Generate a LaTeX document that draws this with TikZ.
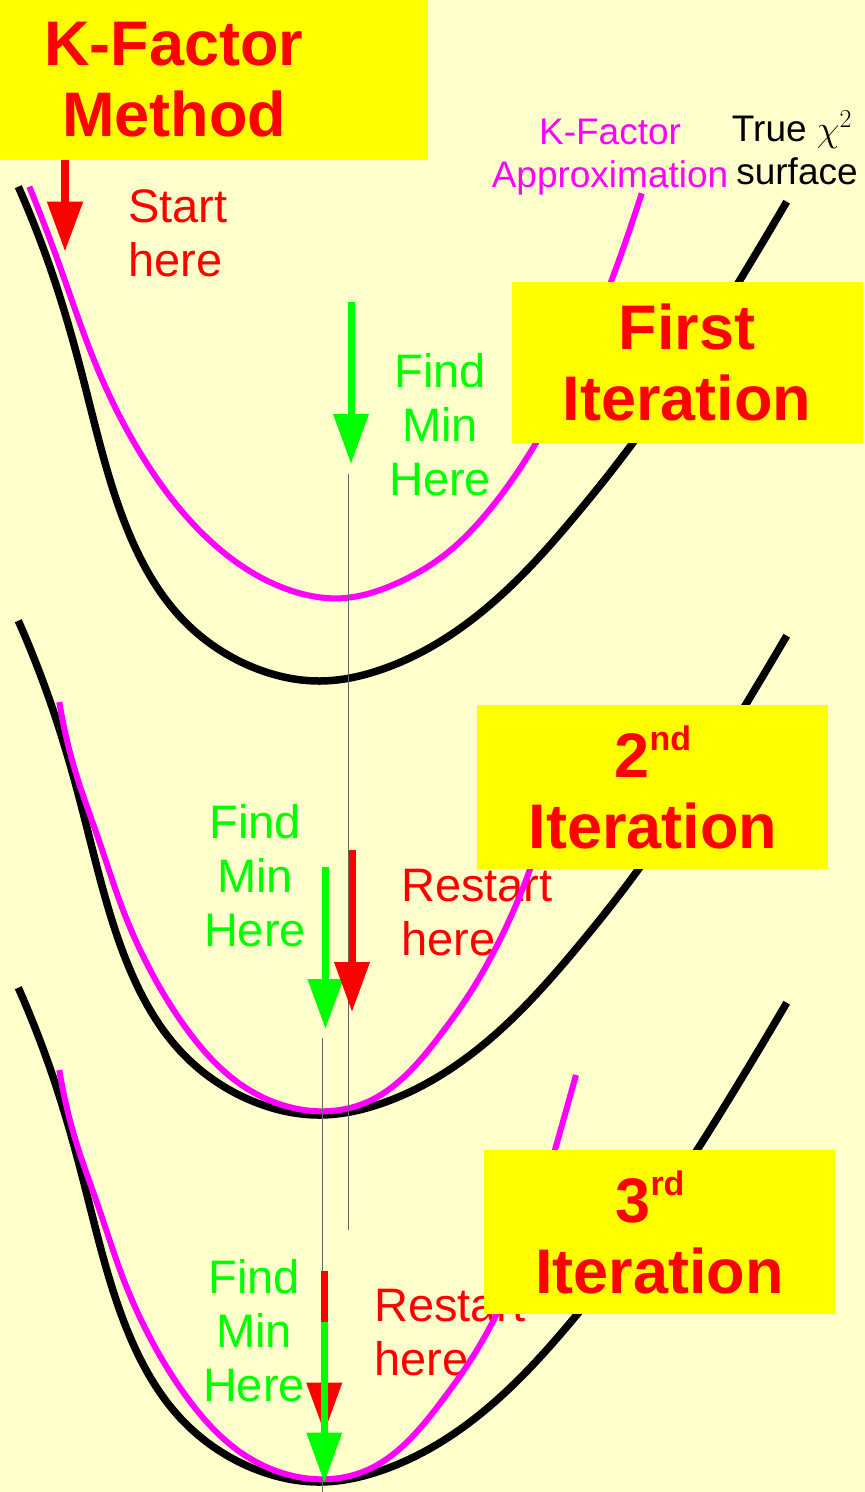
\documentclass[tikz,border=0pt]{standalone}
\usepackage{fix-cm}
\usepackage{fontspec}
\setmainfont{Liberation Sans}
\usetikzlibrary{arrows.meta, hobby}
\definecolor{kfbg}{RGB}{255,255,204}
\definecolor{kfyellow}{RGB}{255,255,0}
\definecolor{kfred}{RGB}{255,0,0}
\definecolor{kfgreen}{RGB}{0,255,0}
\definecolor{kfmagenta}{RGB}{255,0,255}
\newcommand{\ordsup}[1]{\raisebox{27pt}{\fontsize{34}{34}\selectfont #1}}

\begin{document}
\begin{tikzpicture}[
  x=1pt, y=-1pt,
  ybox/.style={fill=kfyellow, inner sep=0pt, align=center, text=kfred,
               font=\fontsize{63}{71}\selectfont\bfseries},
  big/.style={inner sep=0pt, align=center, text=kfred,
              font=\fontsize{63}{71}\selectfont\bfseries},
  note/.style={inner sep=0pt, font=\fontsize{47}{54}\selectfont},
  legend/.style={inner sep=0pt, align=center, font=\fontsize{37}{43}\selectfont},
  truechi/.style={line width=7.5pt, black, use Hobby shortcut},
  kfapprox/.style={line width=6pt, kfmagenta, use Hobby shortcut},
  guide/.style={line width=1pt, black!60},
  arr/.style={-{Triangle[length=50pt, width=34pt]}, line width=7pt}
]
  \useasboundingbox (0,0) rectangle (865,1492);
  \fill[kfbg] (0,0) rectangle (865,1492);

  \node[legend, kfmagenta] (kflabel) at (610,157) {K-Factor\\Approximation};
  \node[legend] (chilabel) at (797,148) {True $\chi^2$\hspace*{10pt}\\surface};

  \node[note, kfred, align=left, anchor=west] (start) at (128,233) {Start\\here};
  \node[note, kfgreen, align=center] (find1) at (440,425) {Find\\Min\\Here};
  \node[note, kfgreen, align=center] (find2) at (255,876) {Find\\Min\\Here};
  \node[note, kfred, align=left, anchor=west] (restart2) at (401,913) {Restart\\here};
  \node[note, kfgreen, align=center] (find3) at (254,1331) {Find\\Min\\Here};
  \node[note, kfred, align=left, anchor=west] (restart3) at (374,1333) {Restart\\here};

  \foreach \dy in {0,434,801} {
    \draw[truechi, shift={(0,\dy)}]
      (18.3,186.7) .. (53.3,276.7) .. (80,366.7) .. (103.3,456.7) .. (133.3,543.3)
      .. (180,616.7) .. (260,670) .. (320,681) .. (380,670) .. (480,613.3)
      .. (580,510) .. (620,460) .. (740,280) .. (786.7,201.7);
  }
  \draw[kfapprox]
    (29.3,186.7) .. (60,266.7) .. (96.7,366.7) .. (146.7,463.3) .. (216.7,546.7)
    .. (300,593.3) .. (340,598.3) .. (396.7,583.3) .. (446.7,553.3) .. (486.7,513.3)
    .. (516.7,473.3) .. (611.7,280) .. (641.7,193.3);
  \draw[kfapprox, shift={(0,-368)}]
    (59.3,1070) .. (76.5,1143.3) .. (99.5,1210) .. (122.5,1276.7) .. (153,1343.3)
    .. (191.4,1403.3) .. (237.3,1450) .. (283.2,1473.3) .. (323.4,1479.3) .. (367.4,1470)
    .. (405.7,1443.3) .. (440.1,1403.3) .. (470.7,1360) .. (493.7,1320) .. (554.9,1150);
  \draw[kfapprox]
    (59.3,1070) .. (76.5,1143.3) .. (99.5,1210) .. (122.5,1276.7) .. (153,1343.3)
    .. (191.4,1403.3) .. (237.3,1450) .. (283.2,1473.3) .. (323.4,1479.3) .. (367.4,1470)
    .. (405.7,1443.3) .. (440.1,1403.3) .. (470.7,1360) .. (493.7,1320) .. (554.9,1150)
    .. (576,1075);

  \coordinate (g1top) at (348.6,474);
  \coordinate (g1bot) at (348.6,1229.7);
  \coordinate (g2top) at (322.7,1037.8);
  \coordinate (g2bot) at (322.7,1492);
  \draw[guide] (g1top) -- (g1bot);
  \draw[guide] (g2top) -- (g2bot);

  \coordinate (s0) at (65,160);
  \coordinate (s1) at (65,251.7);
  \coordinate (m1a) at (351,301.8);
  \coordinate (m1b) at (351,464);
  \coordinate (m2a) at (325.4,867);
  \coordinate (m2b) at (325.4,1029);
  \coordinate (r2a) at (352,850);
  \coordinate (r2b) at (352,1012);
  \coordinate (r3a) at (324.3,1270.6);
  \coordinate (r3b) at (324.3,1432.7);
  \coordinate (m3a) at (324.3,1321.9);
  \coordinate (m3b) at (324.3,1482.6);

  \draw[arr, kfred, line width=8pt] (s0) -- (s1);
  \draw[arr, kfgreen] (m1a) -- (m1b);
  \draw[arr, kfgreen] (m2a) -- (m2b);
  \draw[arr, kfred] (r2a) -- (r2b);
  \draw[arr, kfred] (r3a) -- (r3b);
  \draw[arr, kfgreen] (m3a) -- (m3b);

  \node[ybox, minimum width=428pt, minimum height=160pt, anchor=north west] (methodbox) at (0,0) {};
  \node[big] (method) at (174,80) {K-Factor\\Method};
  \node[ybox, minimum width=351pt, minimum height=161.6pt] (iter1) at (687.2,362.5) {First\\Iteration};
  \node[ybox, minimum width=351pt, minimum height=164.3pt] (iter2) at (652.8,787.2) {2\ordsup{nd}\\Iteration};
  \node[ybox, minimum width=351pt, minimum height=164pt] (iter3) at (659.5,1232) {3\ordsup{rd}\hspace*{19pt}\\Iteration};
\end{tikzpicture}
\end{document}
